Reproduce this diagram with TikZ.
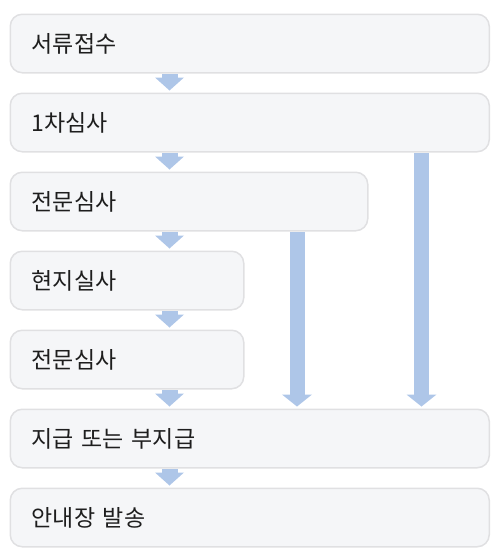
\documentclass[tikz,border=0pt]{standalone}
\usepackage{fontspec}
\setmainfont{Noto Sans CJK KR}
\usetikzlibrary{arrows.meta}
\definecolor{boxfill}{RGB}{245,246,248}
\definecolor{boxline}{RGB}{224,224,226}
\definecolor{arrowblue}{RGB}{174,198,232}
\definecolor{txt}{RGB}{30,30,30}
\begin{document}
\begin{tikzpicture}[x=1pt,y=-1pt,
  stage/.style={draw=boxline, fill=boxfill, line width=1.5pt, rounded corners=12pt,
    anchor=north west, minimum height=58.5pt, inner xsep=21.5pt, inner ysep=0pt,
    align=left, font=\fontsize{23}{27}\selectfont, text=txt},
  shortflow/.style={draw=arrowblue, line width=16pt, line cap=butt,
    -{Triangle[width=29pt,length=13pt,line width=0pt,fill=arrowblue]},
    shorten >=2pt, shorten <=0.75pt},
  longflow/.style={draw=arrowblue, line width=15pt, line cap=butt,
    -{Triangle[width=30pt,length=12pt,line width=0pt,fill=arrowblue]},
    shorten >=2pt, shorten <=0.75pt}]
\useasboundingbox (0,0) rectangle (496,554);
\node[stage, text width=436pt]   (s1) at (9.5,13.5)  {서류접수};
\node[stage, text width=436pt]   (s2) at (9.5,92.5)  {1차심사};
\node[stage, text width=314.5pt] (s3) at (9.5,171.5) {전문심사};
\node[stage, text width=190.5pt] (s4) at (9.5,250.5) {현지실사};
\node[stage, text width=190.5pt] (s5) at (9.5,329.5) {전문심사};
\node[stage, text width=436pt]   (s6) at (9.5,408.5) {지급 또는 부지급};
\node[stage, text width=436pt]   (s7) at (9.5,487.5) {안내장 발송};
\coordinate (cx) at (169.5,0);
\coordinate (lx1) at (297,0);
\coordinate (lx2) at (421.5,0);
\draw[shortflow] (s1.south -| cx) -- (s2.north -| cx);
\draw[shortflow] (s2.south -| cx) -- (s3.north -| cx);
\draw[shortflow] (s3.south -| cx) -- (s4.north -| cx);
\draw[shortflow] (s4.south -| cx) -- (s5.north -| cx);
\draw[shortflow] (s5.south -| cx) -- (s6.north -| cx);
\draw[shortflow] (s6.south -| cx) -- (s7.north -| cx);
\draw[longflow] (s3.south -| lx1) -- (s6.north -| lx1);
\draw[longflow] (s2.south -| lx2) -- (s6.north -| lx2);
\end{tikzpicture}
\end{document}
